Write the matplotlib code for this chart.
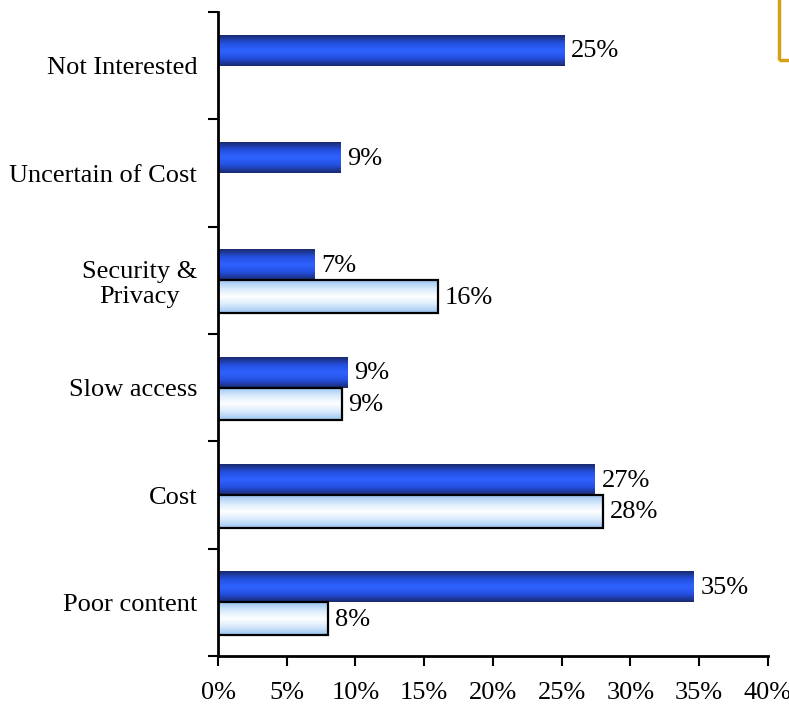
import matplotlib.pyplot as plt
import matplotlib.patches as mpatches
import numpy as np
from matplotlib.colors import LinearSegmentedColormap

# data (bottom to top, as drawn)
categories = ["Poor content", "Cost", "Slow access", "Security &\nPrivacy",
              "Uncertain of Cost", "Not Interested"]
dark_vals = [34.6, 27.4, 9.4, 7.0, 8.9, 25.2]
light_vals = [8.0, 28.0, 9.0, 16.0, 0.0, 0.0]
xticks = [0, 5, 10, 15, 20, 25, 30, 35, 40]

plt.rcParams['font.family'] = ['Liberation Serif', 'DejaVu Serif']
FS = 19

dark_cmap = LinearSegmentedColormap.from_list(
    "dark", ["#1b2a6e", "#2450e0", "#2f62ff", "#2450e0", "#1b2a6e"])
light_cmap = LinearSegmentedColormap.from_list(
    "light", ["#9cc4f2", "#d8eafc", "#ffffff", "#d8eafc", "#9cc4f2"])

fig = plt.figure(figsize=(7.89, 7.08), dpi=100)
ax = fig.add_axes([218 / 789, 1 - 656 / 708, (767.8 - 218) / 789, (656 - 12) / 708])

y = np.arange(len(categories))
h = 0.285
grad = np.linspace(0, 1, 64).reshape(-1, 1)

dark = ax.barh(y + h / 2, dark_vals, height=h, facecolor='none', edgecolor='none')
light = ax.barh(y - h / 2 - 0.01, light_vals, height=h + 0.02, facecolor='none',
                edgecolor='black', linewidth=1.6, zorder=3)


def fill_gradient(bars, cmap):
    for b in bars:
        if b.get_width() <= 0:
            continue
        x0, y0 = b.get_x(), b.get_y()
        ax.imshow(grad, cmap=cmap, aspect='auto', interpolation='bicubic',
                  extent=[x0, x0 + b.get_width(), y0, y0 + b.get_height()],
                  zorder=2)


fill_gradient(dark, dark_cmap)
fill_gradient(light, light_cmap)

for bars in (dark, light):
    for b in bars:
        w = b.get_width()
        if w <= 0:
            continue
        ax.text(w + 0.5, b.get_y() + b.get_height() / 2 - 0.01, f"{round(w)}%",
                va='center', ha='left', fontsize=FS, zorder=4)

ax.set_xlim(0, 40)
ax.set_ylim(-0.5, len(categories) - 0.5)
ax.set_xticks(xticks)
ax.set_xticklabels([f"{t}%" for t in xticks], fontsize=FS)

ax.set_yticks(np.arange(len(categories) + 1) - 0.5)
ax.set_yticklabels([])
ax.set_yticks(y, minor=True)
ax.set_yticklabels(categories, minor=True, fontsize=FS, multialignment='center')
ax.tick_params(axis='y', which='minor', length=0, pad=15)
ax.tick_params(axis='y', which='major', length=7, width=1.5, direction='out')
ax.tick_params(axis='x', length=7, width=1.5, direction='out', pad=12)

for side in ('top', 'right'):
    ax.spines[side].set_visible(False)
for side in ('left', 'bottom'):
    ax.spines[side].set_linewidth(2)

# cut-off legend box at top right
fig.patches.append(mpatches.Rectangle((779 / 789, 1 - 60 / 708), 0.2, 0.2,
                                      transform=fig.transFigure, fill=False,
                                      edgecolor='#d4a017', linewidth=2.5))

fig.savefig("out.png", dpi=100)
